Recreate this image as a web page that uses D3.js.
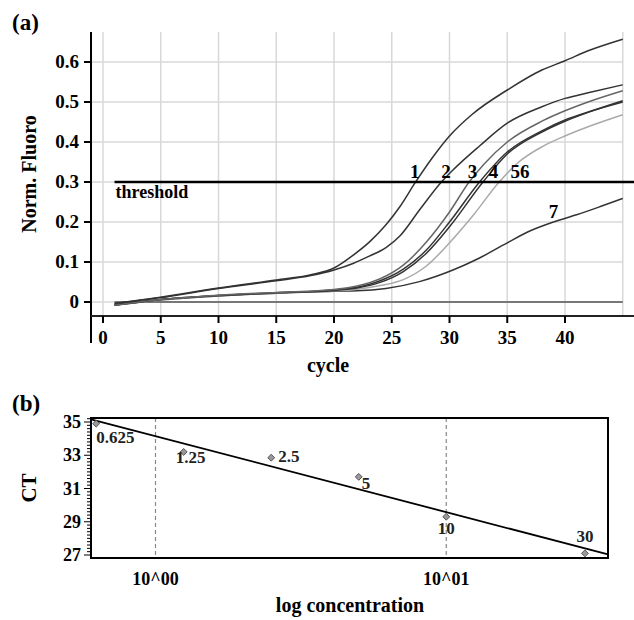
<!DOCTYPE html>
<html>
<head>
<meta charset="utf-8">
<script src="https://cdn.jsdelivr.net/npm/d3@7"></script>
<style>
html,body{margin:0;padding:0;background:#fff;}
text{font-family:"Liberation Serif","Times New Roman",serif;font-weight:bold;}
</style>
</head>
<body>
<div id="chart"></div>
<script>
// (a) amplification curves, [cycle, norm. fluoro]
var curve1=[[1,-0.004],[5,0.012],[10,0.035],[15,0.055],[18,0.068],[20,0.085],[21.7,0.118],[23.1,0.151],[24.5,0.193],[25.7,0.238],[27,0.297],[28.5,0.36],[30,0.415],[32,0.47],[35,0.53],[38,0.58],[40,0.603],[42,0.628],[45,0.657]];
var curve2=[[1,-0.004],[5,0.011],[10,0.034],[15,0.053],[18,0.066],[20,0.08],[21.7,0.097],[23,0.114],[24.5,0.136],[25.7,0.165],[27.4,0.23],[29.3,0.30],[30.3,0.33],[32.6,0.39],[35,0.447],[38,0.488],[40,0.509],[42,0.523],[45,0.543]];
var curve3=[[1,-0.008],[5,0.006],[10,0.017],[15,0.024],[20,0.031],[22,0.04],[24,0.058],[26,0.092],[28,0.15],[30,0.225],[31.7,0.30],[33,0.345],[35,0.40],[38,0.452],[40,0.478],[42,0.50],[45,0.528]];
var curve4=[[1,-0.008],[5,0.006],[10,0.016],[15,0.023],[20,0.03],[22,0.037],[24,0.053],[26,0.082],[28,0.13],[30,0.2],[32.6,0.30],[35,0.375],[38,0.428],[40,0.455],[42,0.475],[45,0.50]];
var curve5=[[1,-0.008],[5,0.006],[10,0.016],[15,0.023],[20,0.029],[22,0.035],[24,0.049],[26,0.076],[28,0.122],[30,0.188],[32.9,0.30],[35,0.37],[38,0.425],[40,0.452],[42,0.474],[45,0.503]];
var curve6=[[1,-0.008],[5,0.005],[10,0.015],[15,0.022],[20,0.028],[22,0.032],[24,0.041],[26,0.056],[28,0.09],[30,0.148],[32,0.215],[34.3,0.30],[36,0.35],[38,0.388],[40,0.415],[42,0.438],[45,0.468]];
var curve7=[[1,-0.008],[5,0.005],[10,0.015],[15,0.022],[20,0.027],[22,0.028],[24.5,0.034],[27.4,0.051],[30.3,0.08],[32.6,0.11],[35,0.148],[37,0.178],[39,0.2],[41,0.218],[43,0.238],[45,0.259]];
var baseLine=[[1,0],[45,0]];
var threshold=0.3;
var curveNames=['1','2','3','4','56','7'];
var curveLabelAt=[[27.0,0.31],[29.7,0.31],[32.0,0.31],[33.8,0.31],[36.1,0.31],[39.0,0.21]];
var cycleTicks=[0,5,10,15,20,25,30,35,40];
var fluoroTicks=[0,0.1,0.2,0.3,0.4,0.5,0.6];

// (b) standard curve
var concs=[0.625,1.25,2.5,5,10,30];
var concNames=['0.625','1.25','2.5','5','10','30'];
var ctValues=[34.9,33.2,32.85,31.7,29.3,27.1];
var ctTicks=[27,29,31,33,35];
var concTicks=[1,10];
var concTickNames=['10^00','10^01'];

var svg=d3.select('#chart').append('svg').attr('width',634).attr('height',620);

// ---------- panel (a)
var x=d3.scaleLinear().domain([0,45]).range([103,622.75]);
var y=d3.scaleLinear().domain([0,0.6]).range([302,62]);
var ga=svg.append('g');

ga.selectAll('.vg').data(d3.range(0,46,5)).enter().append('line')
	.attr('x1',function(d){return x(d);}).attr('x2',function(d){return x(d);})
	.attr('y1',32).attr('y2',316).attr('stroke','#d8d8d8').attr('stroke-width',1.5);
ga.selectAll('.hg').data(fluoroTicks).enter().append('line')
	.attr('x1',91).attr('x2',x(45))
	.attr('y1',function(d){return y(d);}).attr('y2',function(d){return y(d);})
	.attr('stroke','#d8d8d8').attr('stroke-width',1.5);

// axes
ga.append('line').attr('x1',91).attr('x2',91).attr('y1',32).attr('y2',343).attr('stroke','#000').attr('stroke-width',2);
ga.append('line').attr('x1',91).attr('x2',634).attr('y1',316).attr('y2',316).attr('stroke','#222').attr('stroke-width',2);
ga.selectAll('.yt').data(fluoroTicks).enter().append('line')
	.attr('x1',84).attr('x2',91).attr('y1',function(d){return y(d);}).attr('y2',function(d){return y(d);})
	.attr('stroke','#000').attr('stroke-width',2);
ga.selectAll('.ytl').data(fluoroTicks).enter().append('text')
	.attr('x',79).attr('y',function(d){return y(d)+6;}).attr('text-anchor','end').attr('font-size',19)
	.text(function(d){return d===0?'0':d3.format('.1f')(d);});
ga.selectAll('.xt').data(cycleTicks).enter().append('line')
	.attr('x1',function(d){return x(d);}).attr('x2',function(d){return x(d);}).attr('y1',316).attr('y2',323)
	.attr('stroke','#000').attr('stroke-width',2);
ga.selectAll('.xtl').data(cycleTicks).enter().append('text')
	.attr('x',function(d){return x(d);}).attr('y',344).attr('text-anchor','middle').attr('font-size',19)
	.text(function(d){return d;});

var line=d3.line().x(function(d){return x(d[0]);}).y(function(d){return y(d[1]);}).curve(d3.curveMonotoneX);

ga.append('path').attr('d',line(baseLine)).attr('fill','none').attr('stroke','#777').attr('stroke-width',2);

var curves=[curve7,curve6,curve5,curve4,curve3,curve2,curve1];
var colors=['#333','#aaa','#333','#333','#666','#333','#333'];
ga.selectAll('.curve').data(curves).enter().append('path')
	.attr('d',function(d){return line(d);})
	.attr('fill','none')
	.attr('stroke',function(d,i){return colors[i];})
	.attr('stroke-width',1.5);

// threshold
ga.append('line').attr('x1',x(1)).attr('x2',634).attr('y1',y(threshold)).attr('y2',y(threshold))
	.attr('stroke','#000').attr('stroke-width',2.5);
ga.append('text').attr('x',x(1)+1).attr('y',y(threshold)+16).attr('font-size',18).text('threshold');

ga.selectAll('.cl').data(curveNames).enter().append('text')
	.attr('x',function(d,i){return x(curveLabelAt[i][0]);})
	.attr('y',function(d,i){return y(curveLabelAt[i][1]);})
	.attr('text-anchor','middle').attr('font-size',19)
	.text(function(d){return d;});

ga.append('text').attr('x',12).attr('y',30).attr('font-size',23).text('(a)');
ga.append('text').attr('transform','translate(36,174) rotate(-90)').attr('text-anchor','middle').attr('font-size',20).text('Norm. Fluoro');
ga.append('text').attr('x',328).attr('y',372).attr('text-anchor','middle').attr('font-size',20).text('cycle');

// ---------- panel (b)
var bx=d3.scaleLog().domain([0.6,36]).range([91,608]);
var by=d3.scaleLinear().domain([27,35]).range([555,422]);
var gb=svg.append('g');

gb.selectAll('.dg').data(concTicks).enter().append('line')
	.attr('x1',function(d){return bx(d);}).attr('x2',function(d){return bx(d);})
	.attr('y1',418).attr('y2',558)
	.attr('stroke','#888').attr('stroke-width',1.2).attr('stroke-dasharray','4,3');

// regression line (least squares on log concentration)
var lx=concs.map(function(c){return Math.log10(c);});
var mx=d3.mean(lx),my=d3.mean(ctValues);
var sxy=d3.sum(lx,function(v,i){return (v-mx)*(ctValues[i]-my);});
var sxx=d3.sum(lx,function(v){return (v-mx)*(v-mx);});
var slope=sxy/sxx,icpt=my-slope*mx;
var dom=bx.domain();
gb.append('line')
	.attr('x1',bx(dom[0])).attr('y1',by(icpt+slope*Math.log10(dom[0])))
	.attr('x2',bx(dom[1])).attr('y2',by(icpt+slope*Math.log10(dom[1])))
	.attr('stroke','#000').attr('stroke-width',1.8);

// box
gb.append('rect').attr('x',91).attr('y',418).attr('width',517).attr('height',140)
	.attr('fill','none').attr('stroke','#000').attr('stroke-width',2);

// y ticks (minor + major)
var minor=d3.range(27,35.21,0.2);
gb.selectAll('.mt').data(minor).enter().append('line')
	.attr('x1',function(d){return Math.abs(d-Math.round(d))<0.01&&Math.round(d)%2===1?84:87;}).attr('x2',91)
	.attr('y1',function(d){return by(d);}).attr('y2',function(d){return by(d);})
	.attr('stroke','#000').attr('stroke-width',1);
gb.selectAll('.ctl').data(ctTicks).enter().append('text')
	.attr('x',81).attr('y',function(d){return by(d)+6;}).attr('text-anchor','end').attr('font-size',18)
	.text(function(d){return d;});
gb.selectAll('.ctx').data(concTicks).enter().append('text')
	.attr('x',function(d){return bx(d);}).attr('y',585).attr('text-anchor','middle').attr('font-size',18)
	.text(function(d,i){return concTickNames[i];});

// points
gb.selectAll('.pt').data(concs).enter().append('path')
	.attr('d',d3.symbol().type(d3.symbolDiamond2).size(30))
	.attr('transform',function(d,i){return 'translate('+bx(d)+','+by(ctValues[i])+')';})
	.attr('fill','#999').attr('stroke','#555').attr('stroke-width',1);

var lblOff=[[0,19,'start'],[-8,11,'start'],[7,4,'start'],[3,12,'start'],[0,17,'middle'],[0,-11,'middle']];
gb.selectAll('.pl').data(concNames).enter().append('text')
	.attr('x',function(d,i){return bx(concs[i])+lblOff[i][0];})
	.attr('y',function(d,i){return by(ctValues[i])+lblOff[i][1];})
	.attr('text-anchor',function(d,i){return lblOff[i][2];})
	.attr('font-size',17).attr('fill','#222')
	.text(function(d){return d;});

gb.append('text').attr('x',12).attr('y',411).attr('font-size',23).text('(b)');
gb.append('text').attr('transform','translate(36,488) rotate(-90)').attr('text-anchor','middle').attr('font-size',21).text('CT');
gb.append('text').attr('x',350).attr('y',612).attr('text-anchor','middle').attr('font-size',20).text('log concentration');
</script>
</body>
</html>
